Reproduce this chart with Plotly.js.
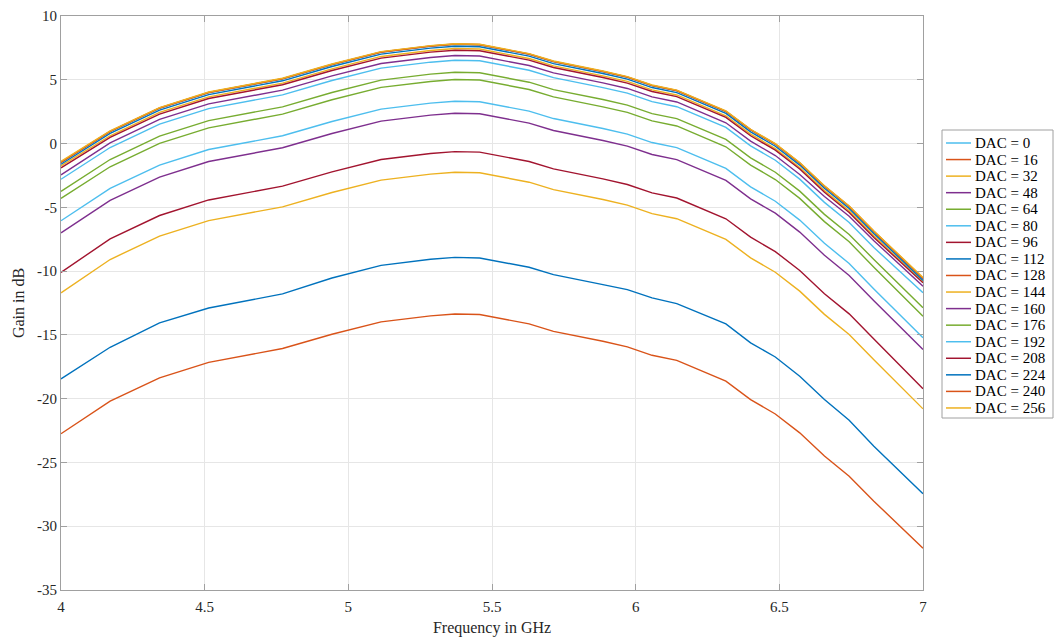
<!DOCTYPE html>
<html>
<head>
<meta charset="utf-8">
<script src="https://cdn.plot.ly/plotly-3.0.1.min.js"></script>
<style>
html,body{margin:0;padding:0;background:#fff;}
#chart{width:1059px;height:638px;}
</style>
</head>
<body>
<div id="chart"></div>
<script>
// Frequency points (GHz)
const freq = [4.0, 4.171, 4.343, 4.514, 4.771, 4.943, 5.114, 5.286, 5.371, 5.457, 5.629, 5.714,
              5.886, 5.971, 6.057, 6.143, 6.314, 6.4, 6.486, 6.571, 6.657, 6.743, 6.829, 7.0];

// Gain in dB for each DAC setting
const dac0   = [-1.47, 0.93, 2.76, 3.98, 5.06, 6.18, 7.15, 7.62, 7.77, 7.73, 6.99, 6.41, 5.63, 5.19, 4.53, 4.13, 2.50, 1.06, -0.07, -1.55, -3.37, -4.95, -6.91, -10.60];
const dac16  = [-1.48, 0.95, 2.78, 4.00, 5.08, 6.20, 7.17, 7.64, 7.79, 7.75, 7.01, 6.43, 5.65, 5.21, 4.55, 4.15, 2.52, 1.08, -0.05, -1.53, -3.35, -4.93, -6.89, -10.58];
const dac32  = [-1.75, 0.61, 2.44, 3.66, 4.74, 5.86, 6.83, 7.30, 7.45, 7.41, 6.67, 6.09, 5.31, 4.87, 4.21, 3.81, 2.18, 0.74, -0.39, -1.87, -3.69, -5.27, -7.23, -10.85];
const dac48  = [-2.45, 0.06, 1.89, 3.11, 4.19, 5.31, 6.28, 6.75, 6.90, 6.86, 6.12, 5.54, 4.76, 4.32, 3.66, 3.26, 1.63, 0.19, -0.94, -2.42, -4.15, -5.70, -7.62, -11.18];
const dac64  = [-3.75, -1.25, 0.58, 1.80, 2.88, 4.00, 4.97, 5.44, 5.59, 5.55, 4.81, 4.23, 3.45, 3.01, 2.35, 1.95, 0.32, -1.12, -2.25, -3.73, -5.55, -7.13, -9.09, -12.88];
const dac80  = [-6.05, -3.52, -1.69, -0.47, 0.61, 1.73, 2.70, 3.17, 3.32, 3.28, 2.54, 1.96, 1.18, 0.74, 0.08, -0.32, -1.95, -3.39, -4.52, -6.00, -7.82, -9.40, -11.40, -15.23];
const dac96  = [-10.10, -7.47, -5.64, -4.42, -3.34, -2.22, -1.25, -0.78, -0.63, -0.67, -1.41, -1.99, -2.77, -3.21, -3.87, -4.27, -5.90, -7.34, -8.47, -9.95, -11.77, -13.35, -15.33, -19.23];
const dac112 = [-18.45, -15.97, -14.06, -12.89, -11.79, -10.54, -9.55, -9.07, -8.92, -8.97, -9.70, -10.28, -11.06, -11.45, -12.10, -12.55, -14.14, -15.63, -16.73, -18.24, -20.07, -21.69, -23.73, -27.45];
const dac128 = [-22.75, -20.20, -18.37, -17.15, -16.07, -14.95, -13.98, -13.51, -13.36, -13.40, -14.14, -14.72, -15.50, -15.94, -16.60, -17.00, -18.63, -20.07, -21.20, -22.68, -24.50, -26.08, -28.04, -31.72];
const dac144 = [-11.70, -9.09, -7.26, -6.04, -4.96, -3.84, -2.87, -2.40, -2.25, -2.29, -3.03, -3.61, -4.39, -4.83, -5.49, -5.89, -7.52, -8.96, -10.09, -11.57, -13.39, -14.97, -16.95, -20.80];
const dac160 = [-7.00, -4.46, -2.63, -1.41, -0.33, 0.79, 1.76, 2.23, 2.38, 2.34, 1.60, 1.02, 0.24, -0.20, -0.86, -1.26, -2.89, -4.33, -5.46, -6.94, -8.76, -10.34, -12.32, -16.14];
const dac176 = [-4.30, -1.82, 0.01, 1.23, 2.31, 3.43, 4.40, 4.87, 5.02, 4.98, 4.24, 3.66, 2.88, 2.44, 1.78, 1.38, -0.25, -1.69, -2.82, -4.30, -6.12, -7.70, -9.70, -13.53];
const dac192 = [-2.80, -0.31, 1.52, 2.74, 3.82, 4.94, 5.91, 6.38, 6.53, 6.49, 5.75, 5.17, 4.39, 3.95, 3.29, 2.89, 1.26, -0.18, -1.31, -2.79, -4.61, -6.19, -8.15, -11.70];
const dac208 = [-1.90, 0.48, 2.31, 3.53, 4.61, 5.73, 6.70, 7.17, 7.32, 7.28, 6.54, 5.96, 5.18, 4.74, 4.08, 3.68, 2.05, 0.61, -0.52, -2.00, -3.82, -5.40, -7.36, -10.92];
const dac224 = [-1.62, 0.79, 2.62, 3.84, 4.92, 6.04, 7.01, 7.48, 7.63, 7.59, 6.85, 6.27, 5.49, 5.05, 4.39, 3.99, 2.36, 0.92, -0.21, -1.69, -3.51, -5.09, -7.05, -10.74];
const dac240 = [-1.45, 0.96, 2.79, 4.01, 5.09, 6.21, 7.18, 7.65, 7.80, 7.76, 7.02, 6.44, 5.66, 5.22, 4.56, 4.16, 2.53, 1.09, -0.04, -1.52, -3.34, -4.92, -6.88, -10.55];
const dac256 = [-1.40, 0.99, 2.82, 4.04, 5.12, 6.24, 7.21, 7.68, 7.83, 7.79, 7.05, 6.47, 5.69, 5.25, 4.59, 4.19, 2.56, 1.12, -0.01, -1.49, -3.31, -4.89, -6.85, -10.50];

const dacLevels = [0, 16, 32, 48, 64, 80, 96, 112, 128, 144, 160, 176, 192, 208, 224, 240, 256];
const gainSeries = [dac0, dac16, dac32, dac48, dac64, dac80, dac96, dac112, dac128, dac144, dac160, dac176, dac192, dac208, dac224, dac240, dac256];
const seriesColors = ['#4DBEEE', '#D95319', '#EDB120', '#7E2F8E', '#77AC30', '#4DBEEE', '#A2142F', '#0072BD',
                      '#D95319', '#EDB120', '#7E2F8E', '#77AC30', '#4DBEEE', '#A2142F', '#0072BD', '#D95319', '#EDB120'];

const xTickVals = [4, 4.5, 5, 5.5, 6, 6.5, 7];
const xTickText = ['4', '4.5', '5', '5.5', '6', '6.5', '7'];
const yTickVals = [10, 5, 0, -5, -10, -15, -20, -25, -30, -35];
const yTickText = ['10', '5', '0', '-5', '-10', '-15', '-20', '-25', '-30', '-35'];

const W = 1059, H = 638;
const M = {l: 61, r: 136, t: 16, b: 48};
const plotW = W - M.l - M.r, plotH = H - M.t - M.b;
const px2paperX = p => (p - M.l) / plotW;
const px2paperY = p => 1 - (p - M.t) / plotH;

const traces = gainSeries.map((g, i) => ({
  x: freq,
  y: g,
  type: 'scatter',
  mode: 'lines',
  name: 'DAC = ' + dacLevels[i],
  line: {color: seriesColors[i], width: 1.4},
  showlegend: false
}));

const fontFam = '"Liberation Serif", "Times New Roman", serif';

// Legend box (MATLAB-style) built from the series names/colours
const legBox = {x0: 942, x1: 1053, y0: 130, y1: 418};
const legFirst = 143, legStep = 16.56;
const shapes = [{
  type: 'rect', xref: 'paper', yref: 'paper',
  x0: px2paperX(legBox.x0), x1: px2paperX(legBox.x1),
  y0: px2paperY(legBox.y0), y1: px2paperY(legBox.y1),
  line: {color: '#a0a0a0', width: 1}, fillcolor: '#ffffff', layer: 'above'
}];
const annotations = [];
dacLevels.forEach((d, i) => {
  const cy = legFirst + i * legStep;
  shapes.push({
    type: 'line', xref: 'paper', yref: 'paper',
    x0: px2paperX(946), x1: px2paperX(971), y0: px2paperY(cy), y1: px2paperY(cy),
    line: {color: seriesColors[i], width: 1.5}, layer: 'above'
  });
  annotations.push({
    xref: 'paper', yref: 'paper', x: px2paperX(973), y: px2paperY(cy),
    xanchor: 'left', yanchor: 'middle', showarrow: false,
    text: 'DAC = ' + d,
    font: {family: fontFam, size: 15, color: '#000000'}
  });
});

const axisCommon = {
  showline: true, linecolor: '#a0a0a0', linewidth: 1, mirror: 'ticks',
  ticks: 'inside', ticklen: 6, tickcolor: '#a0a0a0', tickwidth: 1,
  showgrid: true, gridcolor: '#e6e6e6', gridwidth: 1, zeroline: false,
  tickfont: {family: fontFam, size: 15, color: '#262626'}
};

const layout = {
  width: W, height: H,
  margin: M,
  paper_bgcolor: '#ffffff', plot_bgcolor: '#ffffff',
  font: {family: fontFam, color: '#262626'},
  showlegend: false,
  xaxis: Object.assign({}, axisCommon, {
    range: [4, 7], tickvals: xTickVals, ticktext: xTickText,
    ticklabelstandoff: 3,
    title: {text: 'Frequency in GHz', font: {family: fontFam, size: 16, color: '#262626'}, standoff: 7}
  }),
  yaxis: Object.assign({}, axisCommon, {
    range: [-35, 10], tickvals: yTickVals, ticktext: yTickText,
    title: {text: 'Gain in dB', font: {family: fontFam, size: 16, color: '#262626'}, standoff: 8}
  }),
  shapes: shapes,
  annotations: annotations
};

Plotly.newPlot('chart', traces, layout, {displayModeBar: false, staticPlot: true});
</script>
</body>
</html>
